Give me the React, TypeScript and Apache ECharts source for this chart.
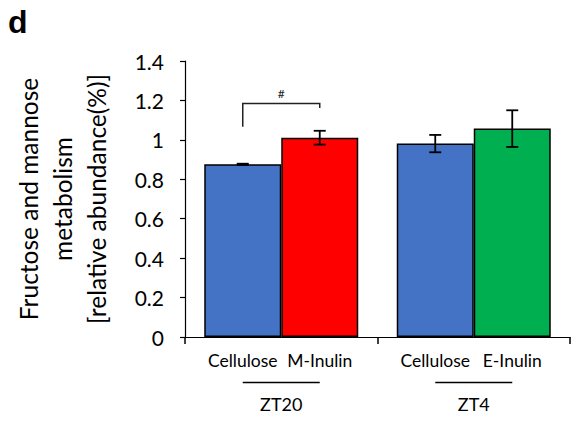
import React, { useEffect, useRef } from "react";
import * as echarts from "echarts";

const groups = ["ZT20", "ZT4"];
const controlName = "Cellulose";
const treatNames = ["M-Inulin", "E-Inulin"];
const controlMean = [0.876, 0.981];
const controlErr = [0.003, 0.044];
const treatMean = [1.011, 1.057];
const treatErr = [0.035, 0.093];
const treatColors = ["#FF0000", "#00B050"];
const controlColor = "#4472C4";
const yTicks = [0, 0.2, 0.4, 0.6, 0.8, 1, 1.2, 1.4];
// significance bracket: [group index, left leg bottom, bracket top, right leg bottom, label]
const sigBracket = [0, 1.066, 1.185, 1.161, "#"] as const;

const FONT = "Lato, 'Open Sans', sans-serif";

export default function App() {
  const ref = useRef<HTMLDivElement>(null);
  useEffect(() => {
    const chart = echarts.init(ref.current!, null, { renderer: "svg" });
    const BW = 0.4; // bar width fraction of band

    const errorSeries = (means: number[], errs: number[], sign: number) => ({
      type: "custom",
      z: 10,
      silent: true,
      data: means.map((m, i) => [i, m, errs[i]]),
      renderItem: (params: any, api: any) => {
        const i = api.value(0);
        const m = api.value(1);
        const e = api.value(2);
        const band = api.size([1, 0])[0];
        const c = api.coord([i, m]);
        const x = c[0] + (sign * band * BW) / 2;
        const top = api.coord([i, m + e])[1];
        const bot = api.coord([i, m - e])[1];
        const cap = 6;
        const st = { stroke: "#000", lineWidth: 1.8, fill: null };
        return {
          type: "group",
          children: [
            { type: "line", shape: { x1: x, y1: top, x2: x, y2: bot }, style: st },
            { type: "line", shape: { x1: x - cap, y1: top, x2: x + cap, y2: top }, style: st },
            { type: "line", shape: { x1: x - cap, y1: bot, x2: x + cap, y2: bot }, style: st },
          ],
        };
      },
    });

    const option: any = {
      animation: false,
      textStyle: { fontFamily: FONT },
      grid: { left: 185, right: 6, top: 61, bottom: 90 },
      xAxis: {
        type: "category",
        data: groups,
        axisLine: { lineStyle: { color: "#000", width: 1.2 } },
        axisTick: { show: true, length: 7, interval: 0, lineStyle: { color: "#000", width: 1.5 } },
        axisLabel: {
          margin: 58,
          interval: 0,
          fontSize: 18,
          color: "#000",
          fontFamily: FONT,
        },
      },
      yAxis: {
        type: "value",
        min: 0,
        max: 1.4,
        interval: 0.2,
        name: "Fructose and mannose\nmetabolism\n[relative abundance(%)]",
        nameLocation: "middle",
        nameRotate: 90,
        nameGap: 72,
        nameTextStyle: { fontSize: 24.5, color: "#000", lineHeight: 34, fontFamily: FONT },
        axisLine: { show: true, lineStyle: { color: "#000", width: 1.2 } },
        axisTick: { show: true, length: 5, lineStyle: { color: "#000", width: 1.2 } },
        splitLine: { show: false },
        axisLabel: {
          fontSize: 21,
          color: "#000",
          margin: 21,
          fontFamily: FONT,
          formatter: (v: number) => String(+v.toFixed(1)),
          customValues: yTicks,
        },
      },
      series: [
        {
          type: "bar",
          name: controlName,
          barWidth: "40%",
          barGap: "0%",
          data: controlMean,
          itemStyle: { color: controlColor, borderColor: "#000", borderWidth: 1.5 },
          label: {
            show: true,
            position: "bottom",
            distance: 14,
            formatter: controlName,
            fontSize: 17.5,
            color: "#000",
            fontFamily: FONT,
          },
        },
        {
          type: "bar",
          name: "Inulin",
          barWidth: "40%",
          barGap: "0%",
          data: treatMean.map((v, i) => ({
            value: v,
            itemStyle: { color: treatColors[i] },
            label: { formatter: treatNames[i] },
          })),
          itemStyle: { borderColor: "#000", borderWidth: 1.5 },
          label: {
            show: true,
            position: "bottom",
            distance: 14,
            fontSize: 17.5,
            color: "#000",
            fontFamily: FONT,
          },
        },
        errorSeries(controlMean, controlErr, -1),
        errorSeries(treatMean, treatErr, 1),
        {
          // group underline between the bar labels and the group name
          type: "custom",
          silent: true,
          clip: false,
          data: groups.map((g, i) => [i]),
          renderItem: (params: any, api: any) => {
            const i = api.value(0);
            const band = api.size([1, 0])[0];
            const p = api.coord([i, 0]);
            const half = (band * BW) / 2;
            return {
              type: "line",
              shape: { x1: p[0] - half, y1: p[1] + 45.5, x2: p[0] + half, y2: p[1] + 45.5 },
              style: { stroke: "#000", lineWidth: 1.6 },
            };
          },
        },
        {
          type: "custom",
          z: 10,
          silent: true,
          data: [[sigBracket[0], sigBracket[1], sigBracket[2], sigBracket[3]]],
          renderItem: (params: any, api: any) => {
            const i = api.value(0);
            const band = api.size([1, 0])[0];
            const cx = api.coord([i, 0])[0];
            const xl = cx - (band * BW) / 2;
            const xr = cx + (band * BW) / 2;
            const yl = api.coord([i, api.value(1)])[1];
            const yt = api.coord([i, api.value(2)])[1];
            const yr = api.coord([i, api.value(3)])[1];
            return {
              type: "group",
              children: [
                {
                  type: "polyline",
                  shape: { points: [[xl, yl], [xl, yt], [xr, yt], [xr, yr]] },
                  style: { stroke: "#222", lineWidth: 1.5, fill: null },
                },
                {
                  type: "text",
                  x: cx,
                  y: yt - 4,
                  style: {
                    text: sigBracket[4],
                    fontSize: 12,
                    fill: "#222",
                    align: "center",
                    verticalAlign: "bottom",
                    fontFamily: FONT,
                  },
                },
              ],
            };
          },
        },
      ],
      graphic: [
        {
          type: "text",
          left: 8,
          top: 6,
          style: { text: "d", fontSize: 32, fontWeight: "bold", fill: "#000", fontFamily: "'Liberation Sans', Arial, sans-serif" },
        },
      ],
    };
    chart.setOption(option);
    return () => chart.dispose();
  }, []);
  return (
    <div
      ref={ref}
      style={{ position: "fixed", left: 0, top: 0, width: 576, height: 427, background: "#fff" }}
    />
  );
}
